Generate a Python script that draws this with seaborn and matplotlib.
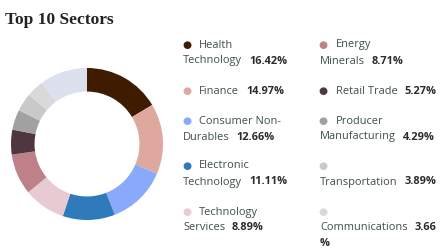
import matplotlib
matplotlib.use("Agg")
import matplotlib.pyplot as plt
import seaborn as sns

sns.set_theme(style="white")
plt.rcParams['font.family'] = ['Open Sans', 'DejaVu Sans']

sectors = ["Health Technology", "Finance", "Consumer Non-Durables", "Electronic Technology",
           "Technology Services", "Energy Minerals", "Retail Trade", "Producer Manufacturing",
           "Transportation", "Communications"]
values = [16.42, 14.97, 12.66, 11.11, 8.89, 8.71, 5.27, 4.29, 3.89, 3.66]
value_labels = ["16.42%", "14.97%", "12.66%", "11.11%", "8.89%", "8.71%", "5.27%", "4.29%", "3.89%", "3.66"]
label_lines = [("Health", "Technology"), ("Finance",), ("Consumer Non-", "Durables"),
               ("Electronic", "Technology"), ("Technology", "Services"), ("Energy", "Minerals"),
               ("Retail Trade",), ("Producer", "Manufacturing"), ("", "Transportation"),
               ("", "Communications")]
colors = ["#3f1b02", "#dfa89e", "#89aafb", "#2f7abb", "#e8cad3", "#be8189", "#4f3740",
          "#a1a1a1", "#c9c9c9", "#d9d9d9"]
other_value = 100 - sum(values)
other_color = "#dce1ed"

W, H = 447, 248
fig = plt.figure(figsize=(W / 100, H / 100), dpi=100)

# donut
cx, cy, r = 87, 144, 76
ax = fig.add_axes([(cx - r) / W, 1 - (cy + r) / H, 2 * r / W, 2 * r / H])
ax.pie(values + [other_value], colors=colors + [other_color], startangle=90,
       counterclock=False, wedgeprops=dict(width=0.31, linewidth=0))
ax.set_xlim(-1, 1)
ax.set_ylim(-1, 1)
ax.set_aspect("equal")
ax.axis("off")

fig.text(5 / W, 1 - 20 / H, "Top 10 Sectors", family="Liberation Serif", fontsize=12.5,
         weight="bold", color="#222222", va="center", ha="left")

label_color = "#3e4f44"
val_color = "#2b2b2b"
fs = 7.9
fig.canvas.draw()
renderer = fig.canvas.get_renderer()

col_x = [(187, 199, 183), (323, 336, 320)]
row_y = [45, 91, 121, 166, 212]
line_gap = 16
for i, name in enumerate(sectors):
    col = i // 5
    row = i % 5
    dot_x, t1_x, t2_x = col_x[col]
    y0 = row_y[row]
    fig.text(dot_x / W, 1 - y0 / H, "\u25cf", color=colors[i], fontsize=7.5, ha="center",
             va="center", family="DejaVu Sans")
    lines = label_lines[i]
    if len(lines) == 1:
        last_t = fig.text(t1_x / W, 1 - y0 / H, lines[0], color=label_color, fontsize=fs,
                          va="center", ha="left")
    else:
        if lines[0]:
            fig.text(t1_x / W, 1 - y0 / H, lines[0], color=label_color, fontsize=fs,
                     va="center", ha="left")
        last_t = fig.text(t2_x / W, 1 - (y0 + line_gap) / H, lines[1], color=label_color,
                          fontsize=fs, va="center", ha="left")
    bb = last_t.get_window_extent(renderer)
    vx = bb.x1 + 7
    vy = last_t.get_position()[1]
    fig.text(vx / W, vy, value_labels[i], color=val_color, fontsize=fs, weight="bold",
             va="center", ha="left")
    if value_labels[i] == "3.66":
        fig.text(t2_x / W, 1 - (y0 + 31) / H, "%", color=val_color, fontsize=fs, weight="bold",
                 va="center", ha="left")

fig.savefig("out.png", dpi=100)
